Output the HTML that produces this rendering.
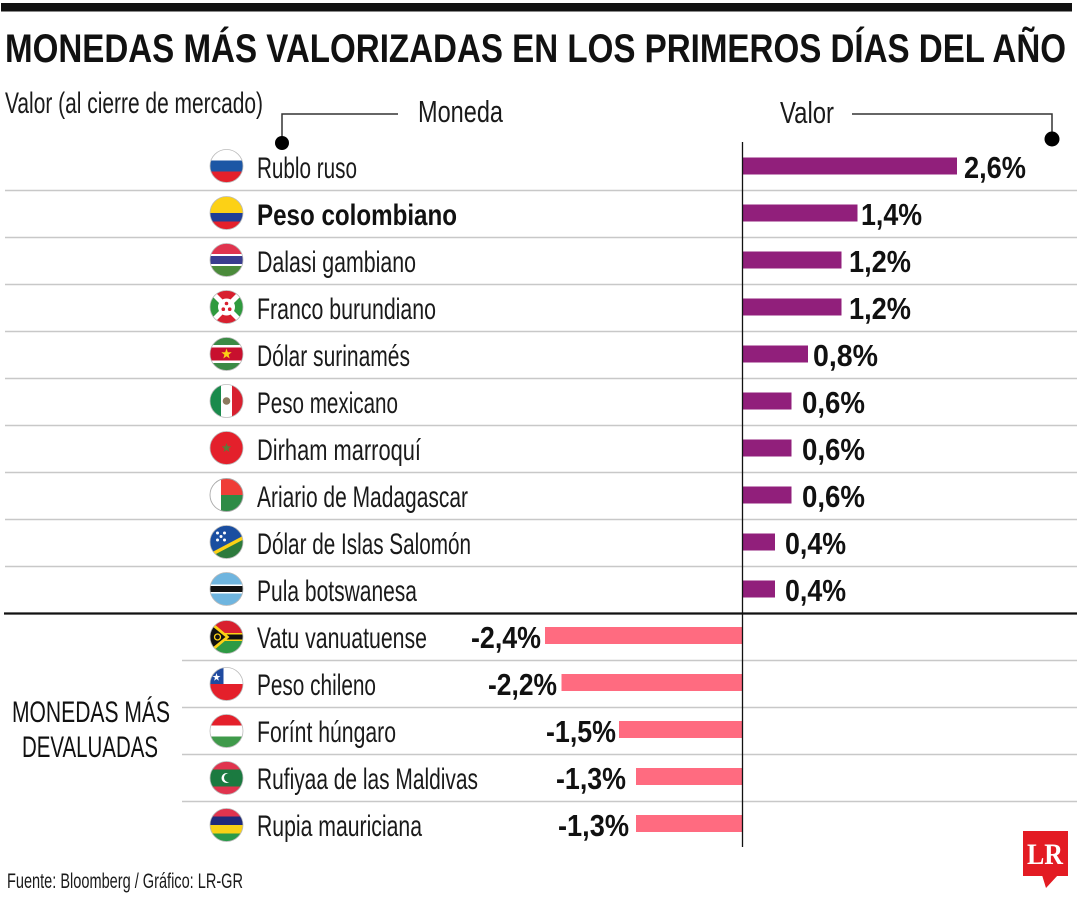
<!DOCTYPE html>
<html><head><meta charset="utf-8"><style>
html,body{margin:0;padding:0;background:#fff;}
svg{display:block;}
</style></head><body>
<svg width="1080" height="900" viewBox="0 0 1080 900" xmlns="http://www.w3.org/2000/svg" font-family="Liberation Sans, sans-serif">
<defs><clipPath id="fc"><circle cx="0" cy="0" r="16.5"/></clipPath></defs>
<rect width="1080" height="900" fill="#fff"/>
<rect x="1" y="3" width="1071" height="8.5" fill="#111"/>
<text x="5" y="62" font-size="40" font-weight="bold" fill="#111" textLength="1061" lengthAdjust="spacingAndGlyphs">MONEDAS MÁS VALORIZADAS EN LOS PRIMEROS DÍAS DEL AÑO</text>

<text x="5" y="113" font-size="30" fill="#1a1a1a" textLength="258" lengthAdjust="spacingAndGlyphs">Valor (al cierre de mercado)</text>
<text x="418" y="122" font-size="31" fill="#1a1a1a" textLength="85" lengthAdjust="spacingAndGlyphs">Moneda</text>
<text x="780" y="123" font-size="31" fill="#1a1a1a" textLength="54" lengthAdjust="spacingAndGlyphs">Valor</text>
<polyline points="398,114 282,114 282,140" fill="none" stroke="#333" stroke-width="1.5"/>
<circle cx="282" cy="143" r="7" fill="#000"/>
<polyline points="852,114 1052,114 1052,136" fill="none" stroke="#333" stroke-width="1.5"/>
<circle cx="1052" cy="139" r="7.5" fill="#000"/>

<g stroke="#c8c8c8" stroke-width="1.6">
<line x1="5" y1="190.5" x2="1077" y2="190.5"/>
<line x1="5" y1="237.5" x2="1077" y2="237.5"/>
<line x1="5" y1="284.5" x2="1077" y2="284.5"/>
<line x1="5" y1="331.5" x2="1077" y2="331.5"/>
<line x1="5" y1="378.5" x2="1077" y2="378.5"/>
<line x1="5" y1="425.5" x2="1077" y2="425.5"/>
<line x1="5" y1="472.5" x2="1077" y2="472.5"/>
<line x1="5" y1="519.5" x2="1077" y2="519.5"/>
<line x1="5" y1="566.5" x2="1077" y2="566.5"/>
<line x1="182" y1="660.5" x2="1077" y2="660.5"/>
<line x1="182" y1="707.5" x2="1077" y2="707.5"/>
<line x1="182" y1="754.5" x2="1077" y2="754.5"/>
<line x1="182" y1="801.5" x2="1077" y2="801.5"/>
</g>
<line x1="4" y1="613.5" x2="1077" y2="613.5" stroke="#111" stroke-width="2.2"/>

<g fill="#911f7b">
<rect x="742" y="157.5" width="215" height="17"/>
<rect x="742" y="204.5" width="115.5" height="17"/>
<rect x="742" y="251.5" width="99.5" height="17"/>
<rect x="742" y="298.5" width="99.5" height="17"/>
<rect x="742" y="345.5" width="66" height="17"/>
<rect x="742" y="392.5" width="49.5" height="17"/>
<rect x="742" y="439.5" width="49.5" height="17"/>
<rect x="742" y="486.5" width="49.5" height="17"/>
<rect x="742" y="533.5" width="33" height="17"/>
<rect x="742" y="580.5" width="33" height="17"/>
</g>
<g fill="#ff6b80">
<rect x="545" y="627" width="197" height="17"/>
<rect x="561.5" y="674" width="180.5" height="17"/>
<rect x="619" y="721" width="123" height="17"/>
<rect x="636" y="768" width="106" height="17"/>
<rect x="636" y="815" width="106" height="17"/>
</g>
<line x1="742.5" y1="142" x2="742.5" y2="847" stroke="#111" stroke-width="1.3"/>

<g font-size="31" font-weight="bold" fill="#111">
<text x="964" y="178" textLength="62" lengthAdjust="spacingAndGlyphs">2,6%</text>
<text x="861" y="225" textLength="61" lengthAdjust="spacingAndGlyphs">1,4%</text>
<text x="849" y="272" textLength="62" lengthAdjust="spacingAndGlyphs">1,2%</text>
<text x="849" y="319" textLength="62" lengthAdjust="spacingAndGlyphs">1,2%</text>
<text x="813" y="366" textLength="65" lengthAdjust="spacingAndGlyphs">0,8%</text>
<text x="802" y="413" textLength="63" lengthAdjust="spacingAndGlyphs">0,6%</text>
<text x="802" y="460" textLength="63" lengthAdjust="spacingAndGlyphs">0,6%</text>
<text x="802" y="507" textLength="63" lengthAdjust="spacingAndGlyphs">0,6%</text>
<text x="785" y="554" textLength="61" lengthAdjust="spacingAndGlyphs">0,4%</text>
<text x="785" y="601" textLength="61" lengthAdjust="spacingAndGlyphs">0,4%</text>
<text x="471" y="648" textLength="70" lengthAdjust="spacingAndGlyphs">-2,4%</text>
<text x="488" y="695" textLength="69" lengthAdjust="spacingAndGlyphs">-2,2%</text>
<text x="546" y="742" textLength="70" lengthAdjust="spacingAndGlyphs">-1,5%</text>
<text x="556" y="789" textLength="70" lengthAdjust="spacingAndGlyphs">-1,3%</text>
<text x="558" y="836" textLength="71" lengthAdjust="spacingAndGlyphs">-1,3%</text>
</g>

<g font-size="30" fill="#1a1a1a">
<text x="257" y="178" textLength="100" lengthAdjust="spacingAndGlyphs">Rublo ruso</text>
<text x="257" y="225" font-weight="bold" fill="#111" textLength="200" lengthAdjust="spacingAndGlyphs">Peso colombiano</text>
<text x="257" y="272" textLength="159" lengthAdjust="spacingAndGlyphs">Dalasi gambiano</text>
<text x="257" y="319" textLength="179" lengthAdjust="spacingAndGlyphs">Franco burundiano</text>
<text x="257" y="366" textLength="153" lengthAdjust="spacingAndGlyphs">Dólar surinamés</text>
<text x="257" y="413" textLength="141" lengthAdjust="spacingAndGlyphs">Peso mexicano</text>
<text x="257" y="460" textLength="164" lengthAdjust="spacingAndGlyphs">Dirham marroquí</text>
<text x="257" y="507" textLength="211" lengthAdjust="spacingAndGlyphs">Ariario de Madagascar</text>
<text x="257" y="554" textLength="214" lengthAdjust="spacingAndGlyphs">Dólar de Islas Salomón</text>
<text x="257" y="601" textLength="160" lengthAdjust="spacingAndGlyphs">Pula botswanesa</text>
<text x="257" y="648" textLength="170" lengthAdjust="spacingAndGlyphs">Vatu vanuatuense</text>
<text x="257" y="695" textLength="119" lengthAdjust="spacingAndGlyphs">Peso chileno</text>
<text x="257" y="742" textLength="139" lengthAdjust="spacingAndGlyphs">Forínt húngaro</text>
<text x="257" y="789" textLength="221" lengthAdjust="spacingAndGlyphs">Rufiyaa de las Maldivas</text>
<text x="257" y="836" textLength="165" lengthAdjust="spacingAndGlyphs">Rupia mauriciana</text>
</g>

<text x="12" y="722" font-size="30" fill="#111" textLength="158" lengthAdjust="spacingAndGlyphs">MONEDAS MÁS</text>
<text x="22" y="757" font-size="30" fill="#111" textLength="136" lengthAdjust="spacingAndGlyphs">DEVALUADAS</text>

<text x="7" y="888" font-size="21" fill="#1a1a1a" textLength="236" lengthAdjust="spacingAndGlyphs">Fuente: Bloomberg / Gráfico: LR-GR</text>

<rect x="1023" y="831" width="45" height="45" fill="#e31b23"/>
<polygon points="1042,875 1058,875 1046,888" fill="#e31b23"/>
<text x="1027" y="864" style="font-family:'Liberation Serif',serif;font-weight:bold;font-size:30px" fill="#fff" textLength="36" lengthAdjust="spacingAndGlyphs">LR</text>

<g transform="translate(226.5,166)"><g clip-path="url(#fc)">
<rect x="-17" y="-17" width="34" height="11.5" fill="#fff"/>
<rect x="-17" y="-5.5" width="34" height="11" fill="#1c57a5"/>
<rect x="-17" y="5.5" width="34" height="11.5" fill="#e4202b"/>
</g><circle r="16.5" fill="none" stroke="#bbb" stroke-width="0.8"/></g>
<g transform="translate(226.5,213)"><g clip-path="url(#fc)">
<rect x="-17" y="-17" width="34" height="17" fill="#fcd116"/>
<rect x="-17" y="0" width="34" height="8.5" fill="#1f3f96"/>
<rect x="-17" y="8.5" width="34" height="8.5" fill="#e4202b"/>
</g><circle r="16.5" fill="none" stroke="#bbb" stroke-width="0.8"/></g>
<g transform="translate(226.5,260)"><g clip-path="url(#fc)">
<rect x="-17" y="-17" width="34" height="34" fill="#fff"/>
<rect x="-17" y="-17" width="34" height="11" fill="#e0344e"/>
<rect x="-17" y="-4" width="34" height="8" fill="#3a3d8f"/>
<rect x="-17" y="6" width="34" height="11" fill="#4b8b3b"/>
</g><circle r="16.5" fill="none" stroke="#bbb" stroke-width="0.8"/></g>
<g transform="translate(226.5,307)"><g clip-path="url(#fc)">
<polygon points="0,0 -17,-17 17,-17" fill="#d8202f"/>
<polygon points="0,0 -17,17 17,17" fill="#d8202f"/>
<polygon points="0,0 -17,-17 -17,17" fill="#2f9a3e"/>
<polygon points="0,0 17,-17 17,17" fill="#2f9a3e"/>
<line x1="-17" y1="-17" x2="17" y2="17" stroke="#fff" stroke-width="5"/>
<line x1="17" y1="-17" x2="-17" y2="17" stroke="#fff" stroke-width="5"/>
<circle r="8.5" fill="#fff"/>
<circle cx="0" cy="-3.5" r="1.8" fill="#d8202f"/>
<circle cx="-3.2" cy="2.2" r="1.8" fill="#d8202f"/>
<circle cx="3.2" cy="2.2" r="1.8" fill="#d8202f"/>
</g><circle r="16.5" fill="none" stroke="#bbb" stroke-width="0.8"/></g>
<g transform="translate(226.5,354)"><g clip-path="url(#fc)">
<rect x="-17" y="-17" width="34" height="34" fill="#fff"/>
<rect x="-17" y="-17" width="34" height="8" fill="#3b8a45"/>
<rect x="-17" y="-6.5" width="34" height="13" fill="#c8102e"/>
<rect x="-17" y="9" width="34" height="8" fill="#3b8a45"/>
<polygon points="0,-5.5 1.3,-1.7 5.2,-1.7 2.1,0.7 3.2,4.5 0,2.2 -3.2,4.5 -2.1,0.7 -5.2,-1.7 -1.3,-1.7" fill="#fcd116"/>
</g><circle r="16.5" fill="none" stroke="#bbb" stroke-width="0.8"/></g>
<g transform="translate(226.5,401)"><g clip-path="url(#fc)">
<rect x="-17" y="-17" width="34" height="34" fill="#fff"/>
<rect x="-17" y="-17" width="11.5" height="34" fill="#1a8a4c"/>
<rect x="5.5" y="-17" width="11.5" height="34" fill="#d8202f"/>
<circle r="3.8" fill="#8d7a5f"/>
</g><circle r="16.5" fill="none" stroke="#bbb" stroke-width="0.8"/></g>
<g transform="translate(226.5,448)"><g clip-path="url(#fc)">
<rect x="-17" y="-17" width="34" height="34" fill="#e4202b"/>
<polygon points="0,-5 1.2,-1.6 4.8,-1.6 1.9,0.6 3,4 0,2 -3,4 -1.9,0.6 -4.8,-1.6 -1.2,-1.6" fill="#5e7a3a"/>
</g><circle r="16.5" fill="none" stroke="#bbb" stroke-width="0.8"/></g>
<g transform="translate(226.5,495)"><g clip-path="url(#fc)">
<rect x="-17" y="-17" width="34" height="34" fill="#fff"/>
<rect x="-5.5" y="-17" width="22.5" height="17" fill="#ef3e37"/>
<rect x="-5.5" y="0" width="22.5" height="17" fill="#2e8b46"/>
</g><circle r="16.5" fill="none" stroke="#aaa" stroke-width="0.9"/></g>
<g transform="translate(226.5,542)"><g clip-path="url(#fc)">
<polygon points="-17,-17 17,-17 17,-6 -17,15" fill="#1a4ea0"/>
<polygon points="17,-6 17,17 -17,17 -17,15" fill="#2d7a3d"/>
<line x1="-18" y1="14" x2="18" y2="-5" stroke="#fcd116" stroke-width="3.5"/>
<circle cx="-9" cy="-9" r="1.5" fill="#fff"/>
<circle cx="-2" cy="-9" r="1.5" fill="#fff"/>
<circle cx="-5.5" cy="-5.5" r="1.5" fill="#fff"/>
<circle cx="-9" cy="-2" r="1.5" fill="#fff"/>
<circle cx="-2" cy="-2" r="1.5" fill="#fff"/>
</g><circle r="16.5" fill="none" stroke="#bbb" stroke-width="0.8"/></g>
<g transform="translate(226.5,589)"><g clip-path="url(#fc)">
<rect x="-17" y="-17" width="34" height="34" fill="#6fb5df"/>
<rect x="-17" y="-4.5" width="34" height="9" fill="#fff"/>
<rect x="-17" y="-3" width="34" height="6" fill="#111"/>
</g><circle r="16.5" fill="none" stroke="#bbb" stroke-width="0.8"/></g>
<g transform="translate(226.5,637)"><g clip-path="url(#fc)">
<rect x="-17" y="-17" width="34" height="17" fill="#d8202f"/>
<rect x="-17" y="0" width="34" height="17" fill="#2e9a44"/>
<rect x="-17" y="-4" width="34" height="8" fill="#fcd116"/>
<rect x="-17" y="-2.5" width="34" height="5" fill="#111"/>
<polygon points="-17,-17 3,0 -17,17" fill="#fcd116"/>
<polygon points="-17,-13 -1,0 -17,13" fill="#111"/>
<circle cx="-9" cy="0" r="3" fill="none" stroke="#fcd116" stroke-width="1.3"/>
</g><circle r="16.5" fill="none" stroke="#bbb" stroke-width="0.8"/></g>
<g transform="translate(226.5,684)"><g clip-path="url(#fc)">
<rect x="-17" y="-17" width="34" height="17" fill="#fff"/>
<rect x="-17" y="-17" width="14" height="17" fill="#1f4aa0"/>
<rect x="-17" y="0" width="34" height="17" fill="#e4202b"/>
<polygon points="-10,-11 -9,-8 -6,-8 -8.5,-6.2 -7.6,-3.3 -10,-5 -12.4,-3.3 -11.5,-6.2 -14,-8 -11,-8" fill="#fff"/>
</g><circle r="16.5" fill="none" stroke="#bbb" stroke-width="0.8"/></g>
<g transform="translate(226.5,731)"><g clip-path="url(#fc)">
<rect x="-17" y="-17" width="34" height="11.5" fill="#e4202b"/>
<rect x="-17" y="-5.5" width="34" height="11" fill="#fff"/>
<rect x="-17" y="5.5" width="34" height="11.5" fill="#3f9a4a"/>
</g><circle r="16.5" fill="none" stroke="#bbb" stroke-width="0.8"/></g>
<g transform="translate(226.5,778)"><g clip-path="url(#fc)">
<rect x="-17" y="-17" width="34" height="34" fill="#e0344e"/>
<rect x="-17" y="-8.5" width="34" height="17" fill="#1b7a40"/>
<circle cx="0" cy="0" r="5" fill="#fff"/>
<circle cx="2" cy="-0.3" r="4.5" fill="#1b7a40"/>
</g><circle r="16.5" fill="none" stroke="#bbb" stroke-width="0.8"/></g>
<g transform="translate(226.5,825)"><g clip-path="url(#fc)">
<rect x="-17" y="-17" width="34" height="8.5" fill="#e0344e"/>
<rect x="-17" y="-8.5" width="34" height="8.5" fill="#1f2a7a"/>
<rect x="-17" y="0" width="34" height="8.5" fill="#f7d117"/>
<rect x="-17" y="8.5" width="34" height="8.5" fill="#2a9a4a"/>
</g><circle r="16.5" fill="none" stroke="#bbb" stroke-width="0.8"/></g>
</svg>
</body></html>
